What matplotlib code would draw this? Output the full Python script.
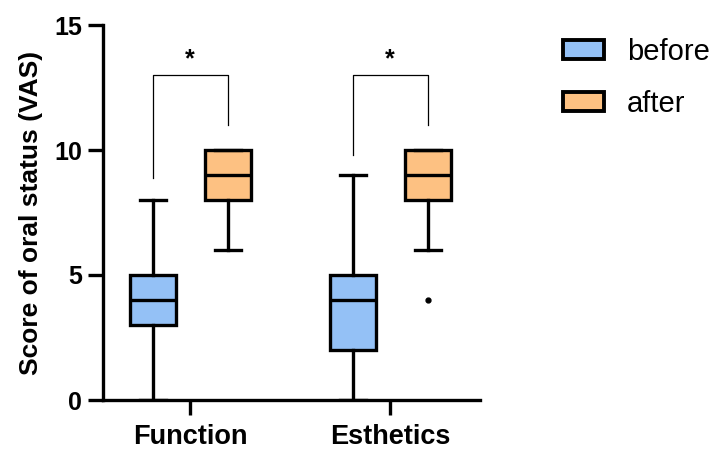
import matplotlib.pyplot as plt
from matplotlib.patches import Patch

plt.rcParams['font.family'] = ['Liberation Sans', 'DejaVu Sans']

groups = ['Function', 'Esthetics']
series = ['before', 'after']
colors = ['#94c1f6', '#fdc182']

# five-number summaries, [group][series]
whislo = [[0, 6], [0, 6]]
q1 = [[3, 8], [2, 8]]
med = [[4, 9], [4, 9]]
q3 = [[5, 10], [5, 10]]
whishi = [[8, 10], [9, 10]]
fliers = [[[], []], [[], [4]]]

# significance brackets per group: left leg bottom, right leg bottom, top
brk_left = [8.9, 9.8]
brk_right = [11, 11]
brk_top = [13, 13]
brk_text = ['*', '*']

fig = plt.figure(figsize=(7.2, 4.58), dpi=100)
ax = fig.add_axes([103 / 720, 58 / 458, 377 / 720, 375 / 458])

off = 0.375
lw = 2.4
for j, s in enumerate(series):
    stats = []
    pos = []
    for i, g in enumerate(groups):
        stats.append(dict(whislo=whislo[i][j], q1=q1[i][j], med=med[i][j], q3=q3[i][j],
                          whishi=whishi[i][j], fliers=fliers[i][j]))
        pos.append(i + (j - 0.5) * off)
    ax.bxp(stats, positions=pos, widths=0.23, capwidths=0.13, patch_artist=True,
           manage_ticks=False,
           boxprops=dict(facecolor=colors[j], edgecolor='black', linewidth=lw),
           medianprops=dict(color='black', linewidth=lw),
           whiskerprops=dict(color='black', linewidth=lw),
           capprops=dict(color='black', linewidth=lw),
           flierprops=dict(marker='o', markersize=3.5, markerfacecolor='black',
                           markeredgecolor='black'))

for i in range(len(groups)):
    xl = i - off / 2
    xr = i + off / 2
    ax.plot([xl, xl, xr, xr], [brk_left[i], brk_top[i], brk_top[i], brk_right[i]],
            color='black', linewidth=0.9)
    ax.text(i, brk_top[i] + 0.15, brk_text[i], ha='center', va='bottom',
            fontsize=18, fontweight='bold')

ax.set_xlim(-0.435, 1.45)
ax.set_ylim(0, 15)
ax.set_yticks([0, 5, 10, 15])
ax.set_xticks(range(len(groups)))
ax.set_xticklabels(groups, fontsize=19.5, fontweight='bold')
for t in ax.get_yticklabels():
    t.set_fontsize(18)
    t.set_fontweight('bold')
ax.set_ylabel('Score of oral status (VAS)', fontsize=19, fontweight='bold', labelpad=8)

ax.spines['top'].set_visible(False)
ax.spines['right'].set_visible(False)
ax.spines['left'].set_linewidth(lw)
ax.spines['bottom'].set_linewidth(lw)
ax.tick_params(axis='both', length=11, width=lw, pad=4)
ax.tick_params(axis='x', pad=6)

handles = [Patch(facecolor=c, edgecolor='black', linewidth=lw + 0.4) for c in colors]
fig.legend(handles, series, loc='upper left', bbox_to_anchor=(563 / 720, 1 - 38 / 458),
           frameon=False, fontsize=21, handlelength=1.4, handleheight=0.62,
           handletextpad=0.8, labelspacing=0.83, borderpad=0, borderaxespad=0)

fig.savefig('out.png', dpi=100)
